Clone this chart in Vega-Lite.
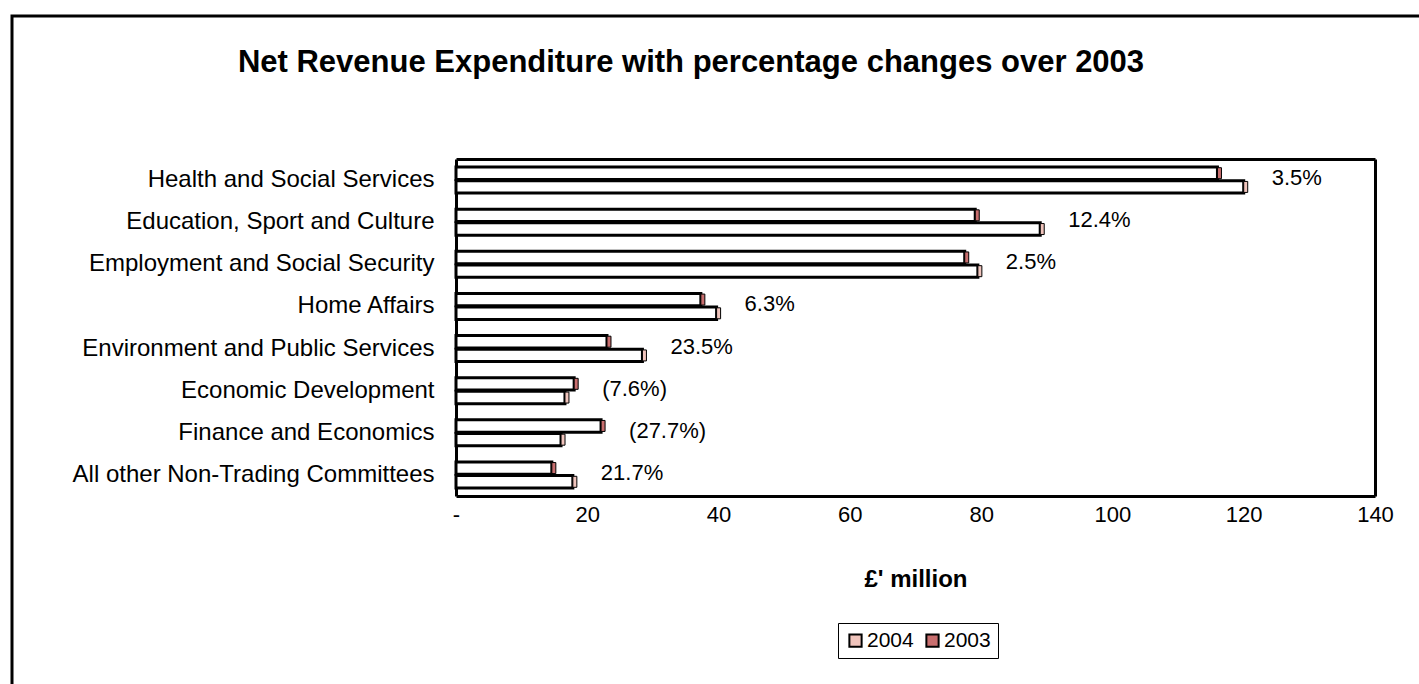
{
  "$schema": "https://vega.github.io/schema/vega-lite/v6.json",
  "autosize": "none",
  "padding": {"left": 12, "top": 16, "right": 0, "bottom": 0},
  "width": 1420,
  "height": 680,
  "background": "white",
  "config": {
    "view": {"stroke": "black", "strokeWidth": 3},
    "font": "Liberation Sans"
  },
  "title": {
    "text": "Net Revenue Expenditure with percentage changes over 2003",
    "font": "Liberation Sans",
    "fontSize": 31,
    "fontWeight": "bold",
    "color": "black",
    "anchor": "middle",
    "frame": "group",
    "offset": -63,
    "dx": -31
  },
  "data": {
    "values": [
      {"category": "Health and Social Services", "year": "2003", "value": 116, "change": "3.5%"},
      {"category": "Health and Social Services", "year": "2004", "value": 120, "change": "3.5%"},
      {"category": "Education, Sport and Culture", "year": "2003", "value": 79.1, "change": "12.4%"},
      {"category": "Education, Sport and Culture", "year": "2004", "value": 89, "change": "12.4%"},
      {"category": "Employment and Social Security", "year": "2003", "value": 77.5, "change": "2.5%"},
      {"category": "Employment and Social Security", "year": "2004", "value": 79.5, "change": "2.5%"},
      {"category": "Home Affairs", "year": "2003", "value": 37.3, "change": "6.3%"},
      {"category": "Home Affairs", "year": "2004", "value": 39.7, "change": "6.3%"},
      {"category": "Environment and Public Services", "year": "2003", "value": 23, "change": "23.5%"},
      {"category": "Environment and Public Services", "year": "2004", "value": 28.4, "change": "23.5%"},
      {"category": "Economic Development ", "year": "2003", "value": 18, "change": "(7.6%)"},
      {"category": "Economic Development ", "year": "2004", "value": 16.6, "change": "(7.6%)"},
      {"category": "Finance and Economics", "year": "2003", "value": 22.1, "change": "(27.7%)"},
      {"category": "Finance and Economics", "year": "2004", "value": 16, "change": "(27.7%)"},
      {"category": "All other Non-Trading Committees", "year": "2003", "value": 14.6, "change": "21.7%"},
      {"category": "All other Non-Trading Committees", "year": "2004", "value": 17.8, "change": "21.7%"}
    ]
  },
  "transform": [
    {"joinaggregate": [{"op": "max", "field": "value", "as": "maxv"}], "groupby": ["category"]}
  ],
  "resolve": {"axis": {"x": "independent", "y": "independent"}},
  "layer": [
    {
      "mark": {"type": "bar", "fill": "white", "stroke": "black", "strokeWidth": 3},
      "encoding": {
        "x": {
          "field": "value", "type": "quantitative",
          "scale": {"domain": [0, 140], "range": [444, 1363], "nice": false},
          "axis": {
            "orient": "bottom", "offset": -200, "values": [0, 20, 40, 60, 80, 100, 120, 140],
            "labelExpr": "datum.value == 0 ? '-' : datum.label",
            "labelFlush": false, "labelOverlap": false,
            "grid": false, "ticks": false, "domain": true, "domainColor": "black", "domainWidth": 3,
            "labelFontSize": 22, "labelColor": "black", "labelPadding": 8, "labelFont": "Liberation Sans",
            "title": "£' million", "titleFontSize": 24, "titleFontWeight": "bold", "titleColor": "black",
            "titlePadding": 42, "titleFont": "Liberation Sans"
          }
        },
        "y": {
          "field": "category", "type": "nominal", "sort": null,
          "scale": {"range": [143, 480], "paddingInner": 0.38, "paddingOuter": 0.19},
          "axis": {
            "orient": "left", "offset": -444, "title": null, "ticks": false,
            "domain": true, "domainColor": "black", "domainWidth": 3,
            "labelFontSize": 24, "labelColor": "black", "labelPadding": 22, "labelLimit": 0,
            "labelFont": "Liberation Sans"
          }
        },
        "yOffset": {"field": "year", "type": "nominal", "scale": {"domain": ["2003", "2004"], "paddingInner": 0.1}}
      }
    },
    {
      "mark": {"type": "tick", "thickness": 4, "size": 11, "stroke": "black", "strokeWidth": 1, "xOffset": 2, "opacity": 1},
      "encoding": {
        "x": {"field": "value", "type": "quantitative", "axis": null},
        "y": {"field": "category", "type": "nominal", "sort": null, "axis": null},
        "yOffset": {"field": "year", "type": "nominal"},
        "color": {
          "field": "year", "type": "nominal",
          "scale": {"domain": ["2004", "2003"], "range": ["#f0c4bc", "#c86e6e"]},
          "legend": {
            "title": null, "orient": "none", "legendX": 826, "legendY": 607, "direction": "horizontal",
            "symbolType": "square", "symbolSize": 150, "symbolStrokeColor": "black", "symbolStrokeWidth": 2,
            "symbolOpacity": 1,
            "labelFontSize": 21, "labelColor": "black", "labelFont": "Liberation Sans", "labelOffset": 1,
            "columnPadding": 8, "strokeColor": "black", "padding": 7, "fillColor": "white"
          }
        }
      }
    },
    {
      "transform": [{"filter": "datum.year == '2004'"}],
      "mark": {"type": "text", "align": "left", "baseline": "middle", "dx": 28, "dy": -2, "fontSize": 22, "color": "black", "font": "Liberation Sans"},
      "encoding": {
        "x": {
          "field": "maxv", "type": "quantitative",
          "axis": {"orient": "top", "offset": -143, "labels": false, "ticks": false, "grid": false, "title": null,
                   "domain": true, "domainColor": "black", "domainWidth": 3}
        },
        "y": {
          "field": "category", "type": "nominal", "sort": null,
          "axis": {"orient": "right", "offset": -57, "labels": false, "ticks": false, "grid": false, "title": null,
                   "domain": true, "domainColor": "black", "domainWidth": 3}
        },
        "text": {"field": "change"}
      }
    }
  ]
}
